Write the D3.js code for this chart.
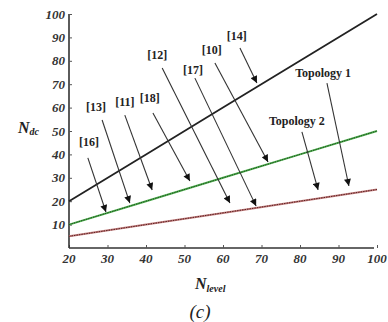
<!DOCTYPE html>
<html>
<head>
<meta charset="utf-8">
<script src="https://cdn.jsdelivr.net/npm/d3@7"></script>
<style>
  body { margin: 0; background: #fff; }
  svg text { font-family: "Liberation Serif", "Times New Roman", Times, "DejaVu Serif", serif; }
</style>
</head>
<body>
<svg id="chart" width="388" height="322"></svg>
<script>
// data
const nLevel = [20, 40, 60, 80, 100];
const topology1 = [20, 40, 60, 80, 100];
const topologyGreen = [10, 20, 30, 40, 50];
const topology2 = [5, 10, 15, 20, 25];
const xTicks = [20, 30, 40, 50, 60, 70, 80, 90, 100];
const yTicks = [10, 20, 30, 40, 50, 60, 70, 80, 90, 100];

// annotation labels: text, label centre (N, value), arrow start, arrow tip
const noteText = ["[16]", "[13]", "[11]", "[18]", "[12]", "[17]", "[10]", "[14]", "Topology 1", "Topology 2"];
const noteAt = [[25.2, 45.3], [27.0, 60.3], [34.5, 62.4], [41.0, 64.1], [42.9, 82.5], [52.2, 76.1], [57.1, 84.6], [63.6, 90.6], [86.0, 74.8], [79.2, 54.3]];
const arrowFrom = [[24.9, 38.5], [28.6, 54.7], [34.5, 56.8], [41.8, 57.7], [44.2, 76.9], [52.7, 72.6], [57.9, 79.1], [64.4, 85.5], [87.0, 70.5], [80.5, 49.6]];
const arrowTo = [[29.6, 15.4], [35.8, 19.2], [41.6, 24.8], [51.4, 28.6], [61.8, 19.2], [68.6, 17.9], [71.7, 36.8], [68.8, 70.5], [92.7, 26.5], [84.7, 24.8]];

const svg = d3.select("#chart");
const x = d3.scaleLinear().domain([20, 100]).range([69, 377]);
const y = d3.scaleLinear().domain([0, 100]).range([248, 14]);

svg.append("defs").append("marker")
  .attr("id", "head")
  .attr("viewBox", "0 0 10 10")
  .attr("refX", 10).attr("refY", 5)
  .attr("markerWidth", 8).attr("markerHeight", 7)
  .attr("markerUnits", "userSpaceOnUse")
  .attr("orient", "auto")
  .append("path").attr("d", "M0,0L10,5L0,10Z").attr("fill", "#111");

// axes
const xAxis = svg.append("g").attr("transform", "translate(0," + y(0) + ")")
  .call(d3.axisTop(x).tickValues(xTicks).tickSize(3).tickFormat(""));
const yAxis = svg.append("g").attr("transform", "translate(" + x(20) + ",0)")
  .call(d3.axisRight(y).tickValues(yTicks).tickSize(3).tickFormat(""));
[xAxis, yAxis].forEach(g => {
  g.select(".domain").attr("stroke", "#333").attr("stroke-width", 1.6);
  g.selectAll(".tick line").attr("stroke", "#555");
});
xAxis.select(".domain").attr("d", "M" + x(20) + ",0H" + (x(100) - 3));
yAxis.select(".domain").attr("d", "M0," + y(100) + "V" + y(0));

svg.append("g").selectAll("text").data(xTicks).join("text")
  .attr("x", d => x(d)).attr("y", 263)
  .attr("text-anchor", "middle")
  .attr("font-size", 13).attr("font-weight", "bold").attr("font-style", "italic")
  .attr("fill", "#333")
  .text(d => d);
svg.append("g").selectAll("text").data(yTicks).join("text")
  .attr("x", 65).attr("y", d => y(d) + 4.5)
  .attr("text-anchor", "end")
  .attr("font-size", 13).attr("font-weight", "bold").attr("font-style", "italic")
  .attr("fill", "#333")
  .text(d => d);

// axis titles
const yl = svg.append("text").attr("x", 18).attr("y", 133)
  .attr("font-weight", "bold").attr("font-style", "italic").attr("fill", "#222");
yl.append("tspan").attr("font-size", 16).text("N");
yl.append("tspan").attr("font-size", 10).attr("dy", 2).text("dc");

const xl = svg.append("text").attr("x", 195).attr("y", 289)
  .attr("font-weight", "bold").attr("font-style", "italic").attr("fill", "#222");
xl.append("tspan").attr("font-size", 16).text("N");
xl.append("tspan").attr("font-size", 10).attr("dy", 3).text("level");

svg.append("text").attr("x", 200).attr("y", 318)
  .attr("text-anchor", "middle").attr("font-size", 19).attr("font-style", "italic")
  .attr("fill", "#222").text("(c)");

// lines
const line = d3.line().x((d, i) => x(nLevel[i])).y(d => y(d));
svg.append("path").datum(topology2).attr("d", line)
  .attr("fill", "none").attr("stroke", "#c48080").attr("stroke-width", 2);
svg.append("path").datum(topology2).attr("d", line)
  .attr("fill", "none").attr("stroke", "#5a2020").attr("stroke-width", 1).attr("stroke-dasharray", "1.5,1");
svg.append("path").datum(topologyGreen).attr("d", line)
  .attr("fill", "none").attr("stroke", "#4fb04f").attr("stroke-width", 2);
svg.append("path").datum(topologyGreen).attr("d", line)
  .attr("fill", "none").attr("stroke", "#1f4f1f").attr("stroke-width", 1).attr("stroke-dasharray", "1.5,1");
svg.append("path").datum(topology1).attr("d", line)
  .attr("fill", "none").attr("stroke", "#222").attr("stroke-width", 1.8);

// arrows and labels
svg.append("g").selectAll("line").data(arrowFrom).join("line")
  .attr("x1", d => x(d[0])).attr("y1", d => y(d[1]))
  .attr("x2", (d, i) => x(arrowTo[i][0])).attr("y2", (d, i) => y(arrowTo[i][1]))
  .attr("stroke", "#333").attr("stroke-width", 1.1)
  .attr("marker-end", "url(#head)");

svg.append("g").selectAll("text").data(noteText).join("text")
  .attr("x", (d, i) => x(noteAt[i][0])).attr("y", (d, i) => y(noteAt[i][1]) + 4)
  .attr("text-anchor", "middle")
  .attr("font-size", 12).attr("font-weight", "bold").attr("fill", "#222")
  .text(d => d);
</script>
</body>
</html>
